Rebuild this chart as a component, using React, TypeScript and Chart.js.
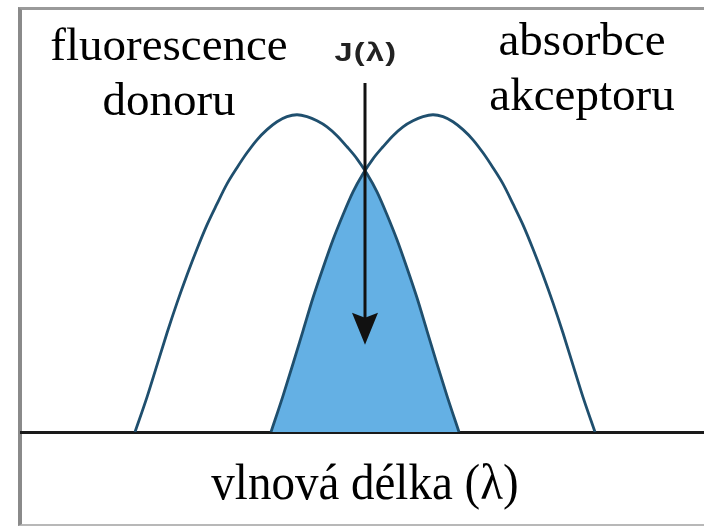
import React, { useEffect, useRef } from "react";
import { Chart, registerables } from "chart.js";

Chart.register(...registerables);

// wavelength (nm, arbitrary) and normalized intensity
const donorWavelength = [
  457, 463, 468, 473, 478, 483, 488, 493, 498, 503, 508, 513, 518, 523, 528, 533, 538,
  543, 548, 553, 558, 563, 568, 573, 578, 583, 588, 593, 598, 603, 608, 613, 619,
];
const donorIntensity = [
  0, 11.0, 21.1, 31.2, 40.7, 49.5, 57.7, 65.3, 71.9, 78.2, 83.3, 88.0, 92.1, 95.3, 97.8, 99.4, 100,
  99.4, 98.1, 96.2, 93.4, 89.9, 86.1, 81.4, 75.7, 68.5, 60.6, 51.7, 42.3, 31.9, 21.5, 11.4, 0,
];

const acceptorWavelength = [
  525, 531, 536, 541, 546, 551, 556, 561, 566, 571, 576, 581, 586, 591, 596, 601, 606,
  611, 616, 621, 626, 631, 636, 641, 646, 651, 656, 661, 666, 671, 676, 681, 687,
];
const acceptorIntensity = [
  0, 11.4, 21.5, 31.9, 42.3, 51.7, 60.6, 68.5, 75.7, 81.4, 86.1, 89.9, 93.4, 96.2, 98.1, 99.4, 100,
  99.4, 97.8, 95.3, 92.1, 88.0, 83.3, 78.2, 71.9, 65.3, 57.7, 49.5, 40.7, 31.2, 21.1, 11.0, 0,
];

// overlap J(λ): rising acceptor edge up to the crossing, then falling donor edge
const overlapRiseWavelength = [525, 531, 536, 541, 546, 551, 556, 561, 566, 571, 572];
const overlapRiseIntensity = [0, 11.4, 21.5, 31.9, 42.3, 51.7, 60.6, 68.5, 75.7, 81.4, 82.3];
const overlapFallWavelength = [572, 573, 578, 583, 588, 593, 598, 603, 608, 613, 619];
const overlapFallIntensity = [82.3, 81.4, 75.7, 68.5, 60.6, 51.7, 42.3, 31.9, 21.5, 11.4, 0];

const arrowWavelength = 572;
const arrowFrom = 110;
const arrowTo = 27.5;

const xLabel = "vlnová délka (λ)";
const donorLabel = ["fluorescence", "donoru"];
const acceptorLabel = ["absorbce", "akceptoru"];
const overlapLabel = "J(λ)";

const STROKE = "#1f4f6e";
const FILL = "#64b0e4";

const pts = (xs: number[], ys: number[]) => xs.map((x, i) => ({ x, y: ys[i] }));

const arrowPlugin = {
  id: "arrowPlugin",
  afterDatasetsDraw(chart: any) {
    const { ctx, scales } = chart;
    const x = scales.x.getPixelForValue(arrowWavelength);
    const y0 = scales.y.getPixelForValue(arrowFrom);
    const y1 = scales.y.getPixelForValue(arrowTo);
    const headLen = 32;
    const halfW = 13;
    ctx.save();
    ctx.strokeStyle = "#111";
    ctx.fillStyle = "#111";
    ctx.lineWidth = 3;
    ctx.beginPath();
    ctx.moveTo(x, y0);
    ctx.lineTo(x, y1 - headLen + 6);
    ctx.stroke();
    ctx.beginPath();
    ctx.moveTo(x, y1);
    ctx.lineTo(x - halfW, y1 - headLen);
    ctx.lineTo(x, y1 - headLen + 5);
    ctx.lineTo(x + halfW, y1 - headLen);
    ctx.closePath();
    ctx.fill();
    ctx.restore();
  },
};

export default function App() {
  const ref = useRef<HTMLCanvasElement | null>(null);

  useEffect(() => {
    if (!ref.current) return;
    const lineDs = (label: string, xs: number[], ys: number[]) => ({
      label,
      data: pts(xs, ys),
      borderColor: STROKE,
      borderWidth: 2.8,
      pointRadius: 0,
      fill: false,
      cubicInterpolationMode: "monotone",
      order: 1,
    });
    const fillDs = (label: string, xs: number[], ys: number[]) => ({
      label,
      data: pts(xs, ys),
      borderWidth: 0,
      borderColor: "rgba(0,0,0,0)",
      backgroundColor: FILL,
      pointRadius: 0,
      fill: "origin",
      cubicInterpolationMode: "monotone",
      order: 3,
    });
    const chart = new Chart(ref.current, {
      type: "line",
      data: {
        datasets: [
          lineDs("donor", donorWavelength, donorIntensity),
          lineDs("acceptor", acceptorWavelength, acceptorIntensity),
          fillDs("overlap-rise", overlapRiseWavelength, overlapRiseIntensity),
          fillDs("overlap-fall", overlapFallWavelength, overlapFallIntensity),
        ] as any,
      },
      options: {
        responsive: false,
        animation: false,
        devicePixelRatio: 1,
        layout: { padding: { left: 21, right: 0, top: 83, bottom: 94 } },
        plugins: { legend: { display: false }, tooltip: { enabled: false }, title: { display: false } },
        scales: {
          x: {
            type: "linear",
            min: 400,
            max: 741.5,
            display: true,
            grid: { display: false, drawTicks: false },
            ticks: { display: false },
            border: { display: true, color: "#1a1a1a", width: 3 },
          },
          y: {
            type: "linear",
            min: 0,
            max: 110,
            display: false,
          },
        },
      } as any,
      plugins: [arrowPlugin],
    });
    return () => chart.destroy();
  }, []);

  const serif = "'Liberation Serif', 'Times New Roman', serif";
  const labelStyle: React.CSSProperties = {
    position: "absolute",
    fontFamily: serif,
    fontSize: 47,
    lineHeight: "55px",
    color: "#000",
    textAlign: "center",
    whiteSpace: "nowrap",
  };

  return (
    <div style={{ position: "absolute", left: 0, top: 0, width: 704, height: 526, overflow: "hidden", background: "#fff" }}>
      <div
        style={{
          position: "absolute",
          left: 18,
          top: 7,
          width: 720,
          height: 514,
          borderLeft: "4px solid #8a8a8a",
          borderTop: "3px solid #9a9a9a",
          borderBottom: "2px solid #b8b8b8",
        }}
      />
      <canvas ref={ref} width={704} height={526} style={{ position: "absolute", left: 0, top: 0, width: 704, height: 526 }} />
      <div style={{ ...labelStyle, left: 169 - 150, width: 300, top: 17 }}>
        {donorLabel[0]}
        <br />
        {donorLabel[1]}
      </div>
      <div style={{ ...labelStyle, left: 582 - 150, width: 300, top: 12 }}>
        {acceptorLabel[0]}
        <br />
        {acceptorLabel[1]}
      </div>
      <div style={{ ...labelStyle, left: 365 - 250, width: 500, top: 455, transform: "scaleY(1.08)" }}>{xLabel}</div>
      <div
        style={{
          position: "absolute",
          left: 366 - 60,
          width: 120,
          top: 38,
          textAlign: "center",
          fontFamily: "'Liberation Sans', Arial, sans-serif",
          fontWeight: 700,
          fontSize: 25,
          lineHeight: "28px",
          color: "#222",
          letterSpacing: 1,
          transform: "scaleX(1.3)",
        }}
      >
        {overlapLabel}
      </div>
    </div>
  );
}
